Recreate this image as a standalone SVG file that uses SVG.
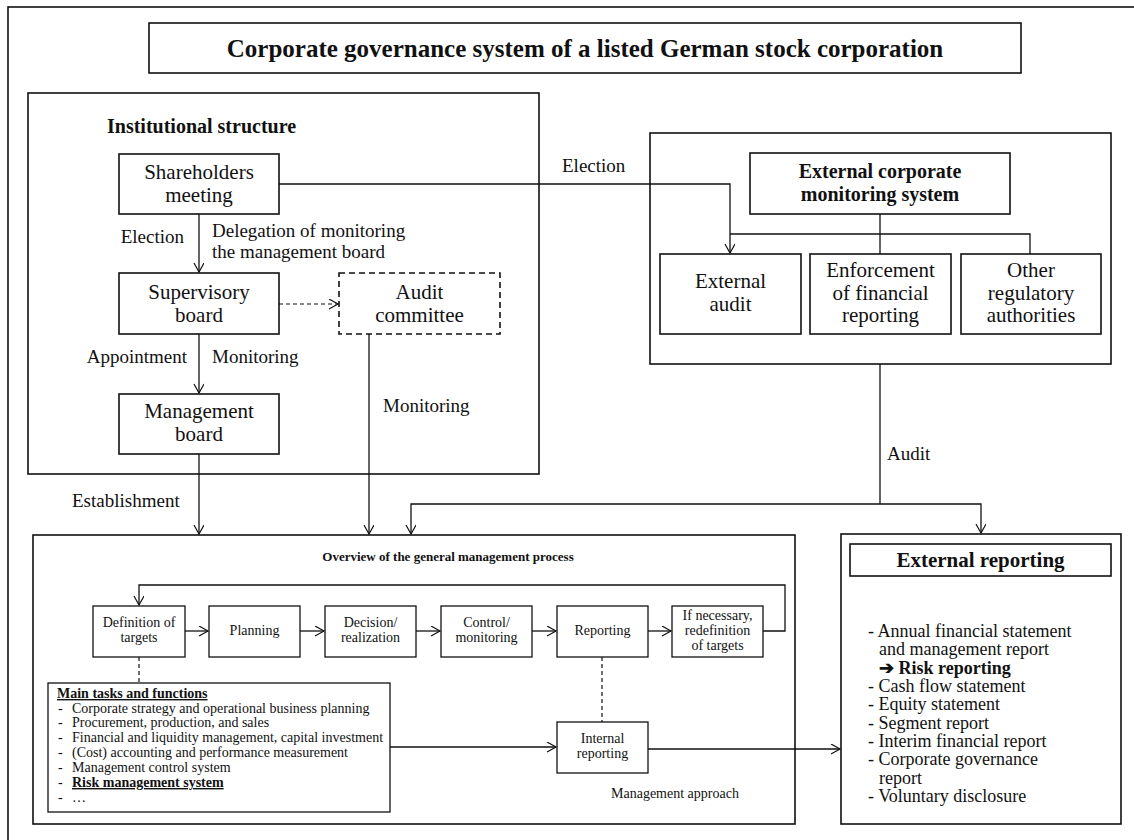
<svg xmlns="http://www.w3.org/2000/svg" width="1134" height="840" viewBox="0 0 1134 840">
<defs>
<style>
.b{fill:#fff;stroke:#111;stroke-width:1.6}
.d{fill:#fff;stroke:#111;stroke-width:1.6;stroke-dasharray:6,4}
.t{font-family:"Liberation Serif",serif;font-size:19px;fill:#111}
.n{font-family:"Liberation Serif",serif;font-size:21px;fill:#111}
.r{font-family:"Liberation Serif",serif;font-size:18px;fill:#111}
.s{font-family:"Liberation Serif",serif;font-size:14px;fill:#111}
.c{text-anchor:middle}
.e{text-anchor:end}
.bo{font-weight:bold}
.ln{fill:none;stroke:#111;stroke-width:1.3}
.dl{fill:none;stroke:#111;stroke-width:1.2;stroke-dasharray:4,3}
</style>
<marker id="arr" markerWidth="12" markerHeight="12" refX="10" refY="5" orient="auto" markerUnits="userSpaceOnUse">
<path d="M1,0 L10,5 L1,10" fill="none" stroke="#111" stroke-width="1.2"/>
</marker>
</defs>
<rect width="1134" height="840" fill="#fff"/>
<g id="frame">
<rect x="8" y="7" width="1140" height="850" class="b" fill="none"/>
</g>
<g id="title">
<rect x="149" y="23" width="872" height="50" class="b"/>
<text x="585" y="57" class="t c bo" style="font-size:25px">Corporate governance system of a listed German stock corporation</text>
</g>
<g id="institutional-structure">
<rect x="28" y="93" width="511" height="381" class="b"/>
<text x="107" y="133" class="t bo" style="font-size:20px">Institutional structure</text>
</g>
<g id="shareholders-meeting">
<rect x="119" y="154" width="160" height="60" class="b"/>
<text x="199" y="179" class="n c">Shareholders</text>
<text x="199" y="202" class="n c">meeting</text>
</g>
<g id="supervisory-board">
<rect x="119" y="273" width="160" height="61" class="b"/>
<text x="199" y="299" class="n c">Supervisory</text>
<text x="199" y="322" class="n c">board</text>
</g>
<g id="audit-committee">
<rect x="339" y="273" width="161" height="61" class="d"/>
<text x="419.5" y="299" class="n c">Audit</text>
<text x="419.5" y="322" class="n c">committee</text>
</g>
<g id="management-board">
<rect x="119" y="394" width="160" height="60" class="b"/>
<text x="199" y="418" class="n c">Management</text>
<text x="199" y="441" class="n c">board</text>
</g>
<g id="external-monitoring">
<rect x="650" y="133" width="461" height="231" class="b"/>
</g>
<g id="external-corporate-monitoring-system">
<rect x="750" y="153" width="260" height="61" class="b"/>
<text x="880" y="178" class="t c bo" style="font-size:20px">External corporate</text>
<text x="880" y="201" class="t c bo" style="font-size:20px">monitoring system</text>
</g>
<g id="external-audit">
<rect x="660" y="254" width="141" height="80" class="b"/>
<text x="730.5" y="288" class="n c">External</text>
<text x="730.5" y="311" class="n c">audit</text>
</g>
<g id="enforcement">
<rect x="810" y="254" width="141" height="80" class="b"/>
<text x="880.5" y="277" class="n c">Enforcement</text>
<text x="880.5" y="300" class="n c">of financial</text>
<text x="880.5" y="322" class="n c">reporting</text>
</g>
<g id="other-authorities">
<rect x="961" y="254" width="140" height="80" class="b"/>
<text x="1031" y="277" class="n c">Other</text>
<text x="1031" y="300" class="n c">regulatory</text>
<text x="1031" y="322" class="n c">authorities</text>
</g>
<g id="management-process">
<rect x="33" y="535" width="762" height="289" class="b"/>
<text x="448" y="561" class="s c bo" style="font-size:13px">Overview of the general management process</text>
<text x="611" y="798" class="s">Management approach</text>
</g>
<g id="definition-of-targets">
<rect x="93" y="606" width="92" height="51" class="b" style="stroke-width:1.3"/>
<text x="139" y="627" class="s c">Definition of</text>
<text x="139" y="642" class="s c">targets</text>
</g>
<g id="planning">
<rect x="209" y="606" width="91" height="51" class="b" style="stroke-width:1.3"/>
<text x="254.5" y="635" class="s c">Planning</text>
</g>
<g id="decision">
<rect x="325" y="606" width="91" height="51" class="b" style="stroke-width:1.3"/>
<text x="370.5" y="627" class="s c">Decision/</text>
<text x="370.5" y="642" class="s c">realization</text>
</g>
<g id="control">
<rect x="441" y="606" width="91" height="51" class="b" style="stroke-width:1.3"/>
<text x="486.5" y="627" class="s c">Control/</text>
<text x="486.5" y="642" class="s c">monitoring</text>
</g>
<g id="reporting">
<rect x="557" y="606" width="91" height="51" class="b" style="stroke-width:1.3"/>
<text x="602.5" y="635" class="s c">Reporting</text>
</g>
<g id="redefinition">
<rect x="672" y="606" width="91" height="51" class="b" style="stroke-width:1.3"/>
<text x="717.5" y="620" class="s c">If necessary,</text>
<text x="717.5" y="635" class="s c">redefinition</text>
<text x="717.5" y="650" class="s c">of targets</text>
</g>
<g id="main-tasks">
<rect x="48" y="683" width="342" height="129" class="b" style="stroke-width:1.3"/>
<text x="57" y="698" class="s bo" text-decoration="underline">Main tasks and functions</text>
<text x="58" y="713" class="s">-</text><text x="72" y="713" class="s">Corporate strategy and operational business planning</text>
<text x="58" y="727" class="s">-</text><text x="72" y="727" class="s">Procurement, production, and sales</text>
<text x="58" y="742" class="s">-</text><text x="72" y="742" class="s">Financial and liquidity management, capital investment</text>
<text x="58" y="757" class="s">-</text><text x="72" y="757" class="s">(Cost) accounting and performance measurement</text>
<text x="58" y="772" class="s">-</text><text x="72" y="772" class="s">Management control system</text>
<text x="58" y="787" class="s">-</text><text x="72" y="787" class="s bo" text-decoration="underline">Risk management system</text>
<text x="58" y="802" class="s">-</text><text x="72" y="802" class="s">…</text>
</g>
<g id="internal-reporting">
<rect x="557" y="722" width="91" height="51" class="b" style="stroke-width:1.3"/>
<text x="602.5" y="743" class="s c">Internal</text>
<text x="602.5" y="758" class="s c">reporting</text>
</g>
<g id="external-reporting">
<rect x="841" y="534" width="280" height="290" class="b"/>
<rect x="850" y="544" width="261" height="32" class="b"/>
<text x="980.5" y="567" class="t c bo" style="font-size:21px">External reporting</text>
<text x="868" y="637" class="r">- Annual financial statement</text>
<text x="879" y="655" class="r">and management report</text>
<text x="879" y="674" class="r bo">➔ Risk reporting</text>
<text x="868" y="692" class="r">- Cash flow statement</text>
<text x="868" y="710" class="r">- Equity statement</text>
<text x="868" y="729" class="r">- Segment report</text>
<text x="868" y="747" class="r">- Interim financial report</text>
<text x="868" y="765" class="r">- Corporate governance</text>
<text x="879" y="784" class="r">report</text>
<text x="868" y="802" class="r">- Voluntary disclosure</text>
</g>
<g id="connectors">
<path d="M279,184 H730 V253" class="ln" marker-end="url(#arr)"/>
<path d="M199,214 V272" class="ln" marker-end="url(#arr)"/>
<path d="M279,304 H338" class="dl" marker-end="url(#arr)"/>
<path d="M199,334 V393" class="ln" marker-end="url(#arr)"/>
<path d="M199,454 V534" class="ln" marker-end="url(#arr)"/>
<path d="M369,334 V534" class="ln" marker-end="url(#arr)"/>
<path d="M880,214 V254 M730,234 H1030 V254" class="ln"/>
<path d="M880,364 V504" class="ln"/>
<path d="M880,504 H411 V534" class="ln" marker-end="url(#arr)"/>
<path d="M880,504 H981 V533" class="ln" marker-end="url(#arr)"/>
<path d="M185,631 H208" class="ln" marker-end="url(#arr)"/>
<path d="M300,631 H324" class="ln" marker-end="url(#arr)"/>
<path d="M416,631 H440" class="ln" marker-end="url(#arr)"/>
<path d="M532,631 H556" class="ln" marker-end="url(#arr)"/>
<path d="M648,631 H671" class="ln" marker-end="url(#arr)"/>
<path d="M763,631 H785 V585 H139 V605" class="ln" marker-end="url(#arr)"/>
<path d="M139,657 V683" class="dl"/>
<path d="M602,657 V722" class="dl"/>
<path d="M390,747 H556" class="ln" marker-end="url(#arr)"/>
<path d="M648,749 H840" class="ln" marker-end="url(#arr)"/>
<text x="562" y="172" class="t">Election</text>
<text x="184" y="243" class="t e">Election</text>
<text x="212" y="237" class="t">Delegation of monitoring</text>
<text x="212" y="258" class="t">the management board</text>
<text x="187" y="363" class="t e">Appointment</text>
<text x="212" y="363" class="t">Monitoring</text>
<text x="383" y="412" class="t">Monitoring</text>
<text x="72" y="507" class="t">Establishment</text>
<text x="887" y="460" class="t">Audit</text>
</g>
</svg>
